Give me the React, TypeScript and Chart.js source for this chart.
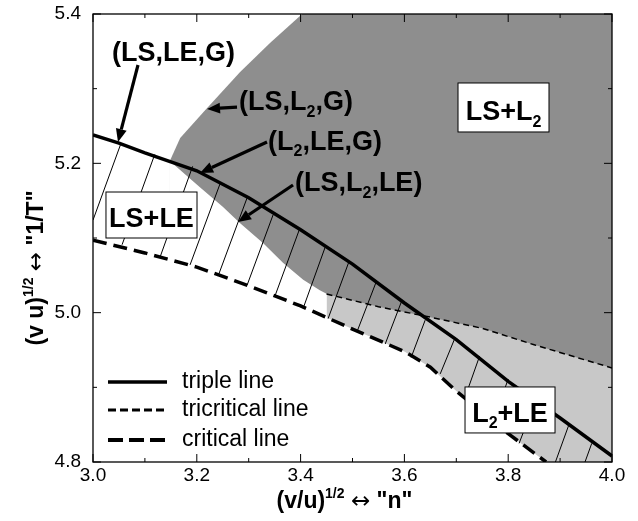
import React, { useEffect, useRef } from "react";
import { Chart, registerables } from "chart.js";
Chart.register(...registerables);

// ---- data ----
const tripleX = [3.0, 3.05, 3.1, 3.2, 3.3, 3.4, 3.5, 3.6, 3.7, 3.8, 3.9, 4.0];
const tripleY = [5.238, 5.227, 5.214, 5.19, 5.154, 5.111, 5.065, 5.013, 4.964, 4.908, 4.859, 4.808];

const criticalX = [3.0, 3.1, 3.2, 3.3, 3.4, 3.5, 3.6, 3.65, 3.7, 3.8, 3.873];
const criticalY = [5.097, 5.08, 5.061, 5.036, 5.009, 4.978, 4.948, 4.927, 4.895, 4.838, 4.8];

const tricriticalX = [3.45, 3.55, 3.65, 3.75, 3.85, 4.0];
const tricriticalY = [5.025, 5.008, 4.994, 4.979, 4.957, 4.926];

// (LS,L2,G) boundary, then the top edge of the LS+L2 region
const darkTopX = [3.148, 3.168, 3.216, 3.283, 3.341, 3.403, 4.0];
const darkTopY = [5.203, 5.234, 5.271, 5.322, 5.361, 5.4, 5.4];

// (LS,L2,LE) boundary
const darkBottomX = [3.148, 3.206, 3.25, 3.283, 3.328, 3.366, 3.405, 3.437, 3.462];
const darkBottomY = [5.203, 5.168, 5.142, 5.12, 5.093, 5.067, 5.044, 5.03, 5.021];

// tie lines (bottom end -> top end)
const tieX1 = [3.0, 3.056, 3.129, 3.187, 3.241, 3.297, 3.351, 3.405, 3.453, 3.509, 3.563, 3.613, 3.669, 3.717, 3.771, 3.821, 3.891, 3.948];
const tieY1 = [5.124, 5.091, 5.074, 5.064, 5.049, 5.037, 5.023, 5.006, 4.992, 4.975, 4.958, 4.94, 4.918, 4.887, 4.855, 4.825, 4.8, 4.8];
const tieX2 = [3.053, 3.119, 3.192, 3.245, 3.297, 3.347, 3.398, 3.448, 3.493, 3.545, 3.595, 3.64, 3.698, 3.745, 3.8, 3.852, 3.917, 3.961];
const tieY2 = [5.225, 5.212, 5.196, 5.173, 5.154, 5.131, 5.112, 5.089, 5.068, 5.04, 5.016, 4.99, 4.967, 4.942, 4.911, 4.881, 4.85, 4.825];

const xMajor = [3.0, 3.2, 3.4, 3.6, 3.8, 4.0];
const xTickLabels = ["3.0", "3.2", "3.4", "3.6", "3.8", "4.0"];
const xMinor = [3.1, 3.3, 3.5, 3.7, 3.9];
const yMajor = [4.8, 5.0, 5.2, 5.4];
const yTickLabels = ["4.8", "5.0", "5.2", "5.4"];
const yMinor = [4.9, 5.1, 5.3];

const legendLabels = ["triple line", "tricritical line", "critical line"];

const FONT = '"Liberation Sans", Arial, Helvetica, sans-serif';
const ARROW_FONT = '"DejaVu Sans", sans-serif';
const DARK = "#8e8e8e";
const LIGHT = "#c8c8c8";

type Part = { t: string; sub?: boolean; sup?: boolean; arrow?: boolean };

function partFont(p: Part, size: number, weight: string) {
  if (p.arrow) return `normal ${size}px ${ARROW_FONT}`;
  return `${weight} ${p.sub || p.sup ? Math.round(size * 0.6) : size}px ${FONT}`;
}

function drawRich(ctx: CanvasRenderingContext2D, parts: Part[], x: number, y: number, size: number, align: "left" | "center", weight = "bold") {
  const widths = parts.map((p) => {
    ctx.font = partFont(p, size, weight);
    return ctx.measureText(p.t).width;
  });
  const total = widths.reduce((s, w) => s + w, 0);
  let cx = align === "center" ? x - total / 2 : x;
  ctx.textAlign = "left";
  ctx.textBaseline = "alphabetic";
  parts.forEach((p, i) => {
    ctx.font = partFont(p, size, weight);
    const dy = p.sub ? size * 0.24 : p.sup ? -size * 0.42 : 0;
    ctx.fillText(p.t, cx, y + dy);
    cx += widths[i];
  });
}

function arrow(ctx: CanvasRenderingContext2D, x1: number, y1: number, x2: number, y2: number) {
  const ang = Math.atan2(y2 - y1, x2 - x1);
  const hl = 13, hw = 5.5;
  const bx = x2 - hl * Math.cos(ang), by = y2 - hl * Math.sin(ang);
  ctx.lineWidth = 3.2;
  ctx.beginPath();
  ctx.moveTo(x1, y1);
  ctx.lineTo(bx, by);
  ctx.stroke();
  ctx.beginPath();
  ctx.moveTo(x2, y2);
  ctx.lineTo(bx + hw * Math.sin(ang), by - hw * Math.cos(ang));
  ctx.lineTo(bx - hw * Math.sin(ang), by + hw * Math.cos(ang));
  ctx.closePath();
  ctx.fill();
}

const overlay = {
  id: "overlay",
  afterDatasetsDraw(chart: any) {
    const { ctx, chartArea: a } = chart;
    const xs = chart.scales.x, ys = chart.scales.y;
    const X = (v: number) => xs.getPixelForValue(v);
    const Y = (v: number) => ys.getPixelForValue(v);
    const seg = (x1: number, y1: number, x2: number, y2: number) => {
      ctx.beginPath(); ctx.moveTo(x1, y1); ctx.lineTo(x2, y2); ctx.stroke();
    };
    ctx.save();
    ctx.fillStyle = "#000";
    ctx.strokeStyle = "#000";
    ctx.setLineDash([]);
    // frame
    ctx.lineWidth = 1.3;
    ctx.strokeRect(a.left, a.top, a.right - a.left, a.bottom - a.top);
    // inward ticks
    ctx.lineWidth = 1;
    xMajor.forEach((v) => { const p = X(v); seg(p, a.bottom, p, a.bottom - 8); seg(p, a.top, p, a.top + 8); });
    xMinor.forEach((v) => { const p = X(v); seg(p, a.bottom, p, a.bottom - 4); seg(p, a.top, p, a.top + 4); });
    yMajor.forEach((v) => { const p = Y(v); seg(a.left, p, a.left + 8, p); seg(a.right, p, a.right - 8, p); });
    yMinor.forEach((v) => { const p = Y(v); seg(a.left, p, a.left + 4, p); seg(a.right, p, a.right - 4, p); });

    // region boxes
    const boxes: { x1: number; x2: number; y1: number; y2: number; base: number; parts: Part[] }[] = [
      { x1: 3.7033, x2: 3.8786, y1: 5.3076, y2: 5.242, base: 5.258, parts: [{ t: "LS+L" }, { t: "2", sub: true }] },
      { x1: 3.025, x2: 3.2004, y1: 5.1616, y2: 5.1, base: 5.1147, parts: [{ t: "LS+LE" }] },
      { x1: 3.7168, x2: 3.8902, y1: 4.9005, y2: 4.8389, base: 4.8536, parts: [{ t: "L" }, { t: "2", sub: true }, { t: "+LE" }] },
    ];
    boxes.forEach((b) => {
      const l = X(b.x1), r = X(b.x2), t = Y(b.y1), bt = Y(b.y2);
      ctx.fillStyle = "#fff";
      ctx.fillRect(l, t, r - l, bt - t);
      ctx.lineWidth = 1;
      ctx.strokeRect(l, t, r - l, bt - t);
      ctx.fillStyle = "#000";
      drawRich(ctx, b.parts, (l + r) / 2, Y(b.base), 27, "center");
    });

    // point labels with arrows
    const notes: { tx: number; ty: number; ax1: number; ay1: number; ax2: number; ay2: number; parts: Part[] }[] = [
      { tx: 3.0366, ty: 5.3371, ax1: 3.0867, ay1: 5.3317, ax2: 3.0482, ay2: 5.2286, parts: [{ t: "(LS,LE,G)" }] },
      { tx: 3.2813, ty: 5.2714, ax1: 3.2775, ay1: 5.2754, ax2: 3.2197, ay2: 5.2728, parts: [{ t: "(LS,L" }, { t: "2", sub: true }, { t: ",G)" }] },
      { tx: 3.3372, ty: 5.2179, ax1: 3.3353, ay1: 5.2286, ax2: 3.2062, ay2: 5.1871, parts: [{ t: "(L" }, { t: "2", sub: true }, { t: ",LE,G)" }] },
      { tx: 3.3892, ty: 5.1629, ax1: 3.3854, ay1: 5.171, ax2: 3.2794, ay2: 5.1214, parts: [{ t: "(LS,L" }, { t: "2", sub: true }, { t: ",LE)" }] },
    ];
    notes.forEach((n) => {
      ctx.fillStyle = "#000";
      arrow(ctx, X(n.ax1), Y(n.ay1), X(n.ax2), Y(n.ay2));
      drawRich(ctx, n.parts, X(n.tx), Y(n.ty), 27, "left");
    });

    // legend
    const rows = [4.9071, 4.8696, 4.8295];
    const styles = [
      { dash: [] as number[], w: 3.5 },
      { dash: [8, 4], w: 3 },
      { dash: [15, 6], w: 4 },
    ];
    rows.forEach((ry, i) => {
      const py = Y(ry);
      ctx.lineWidth = styles[i].w;
      ctx.setLineDash(styles[i].dash);
      seg(X(3.0289), py, X(3.1426), py);
      ctx.setLineDash([]);
      ctx.font = `23px ${FONT}`;
      ctx.textAlign = "left";
      ctx.textBaseline = "middle";
      ctx.fillText(legendLabels[i], X(3.1715), py);
    });
    ctx.restore();
  },
  afterDraw(chart: any) {
    const { ctx, chartArea: a } = chart;
    ctx.save();
    ctx.fillStyle = "#000";
    // x title
    drawRich(ctx, [{ t: "(v/u)" }, { t: "1/2", sup: true }, { t: " " }, { t: "\u2194", arrow: true }, { t: " \"n\"" }], (a.left + a.right) / 2 - 8, 508, 23, "center");
    // y title
    ctx.translate(43, (a.top + a.bottom) / 2 + 30);
    ctx.rotate(-Math.PI / 2);
    drawRich(ctx, [{ t: "(v u)" }, { t: "1/2", sup: true }, { t: " " }, { t: "\u2194", arrow: true }, { t: " \"1/T\"" }], 0, 0, 23, "center");
    ctx.restore();
  },
};

const pts = (xs: number[], ys: number[]) => xs.map((x, i) => ({ x, y: ys[i] }));

export default function App() {
  const ref = useRef<HTMLCanvasElement | null>(null);
  useEffect(() => {
    if (!ref.current) return;
    const base = { pointRadius: 0, pointHoverRadius: 0, tension: 0 };
    const ties = tieX1.map((x1, i) => ({
      ...base,
      label: `tie${i}`,
      data: [{ x: x1, y: tieY1[i] }, { x: tieX2[i], y: tieY2[i] }],
      borderColor: "#000",
      borderWidth: 1,
      fill: false,
      order: 10,
    }));
    const chart = new Chart(ref.current, {
      type: "line",
      data: {
        datasets: [
          { ...base, label: "LS+L2 region", data: pts(darkTopX, darkTopY), fill: "start", backgroundColor: DARK, borderColor: "rgba(0,0,0,0)", borderWidth: 0, order: 20 },
          { ...base, label: "LS,L2,LE boundary", data: pts(darkBottomX, darkBottomY), fill: "start", backgroundColor: "#fff", borderColor: "rgba(0,0,0,0)", borderWidth: 0, order: 19 },
          { ...base, label: "L2+LE region", data: pts(tricriticalX, tricriticalY), fill: "start", backgroundColor: LIGHT, borderColor: "rgba(0,0,0,0)", borderWidth: 0, order: 18 },
          { ...base, label: "below critical", data: pts(criticalX, criticalY), fill: "start", backgroundColor: "#fff", borderColor: "rgba(0,0,0,0)", borderWidth: 0, order: 17 },
          ...ties,
          { ...base, label: "tricritical line", data: pts(tricriticalX, tricriticalY), borderColor: "#000", borderWidth: 1.5, borderDash: [6, 4], fill: false, order: 3 },
          { ...base, label: "critical line", data: pts(criticalX, criticalY), borderColor: "#000", borderWidth: 3.5, borderDash: [14, 7], fill: false, order: 2 },
          { ...base, label: "triple line", data: pts(tripleX, tripleY), borderColor: "#000", borderWidth: 3.5, fill: false, order: 1 },
        ] as any,
      },
      options: {
        animation: false,
        responsive: false,
        devicePixelRatio: 1,
        events: [],
        layout: { padding: { left: 53, top: 14, right: 26, bottom: 33 } },
        plugins: { legend: { display: false }, tooltip: { enabled: false } },
        scales: {
          x: {
            type: "linear",
            min: 3.0,
            max: 4.0,
            grid: { display: false, drawTicks: false },
            border: { display: false },
            afterBuildTicks: (s: any) => { s.ticks = xMajor.map((v) => ({ value: v })); },
            afterFit: (s: any) => { s.height = 26; s.paddingLeft = 0; s.paddingRight = 0; s.paddingTop = 0; s.paddingBottom = 0; },
            ticks: { font: { size: 19, family: FONT }, color: "#000", padding: 2, maxRotation: 0, autoSkip: false, callback: (_v: any, i: number) => xTickLabels[i] },
          },
          y: {
            type: "linear",
            min: 4.8,
            max: 5.4,
            grid: { display: false, drawTicks: false },
            border: { display: false },
            afterBuildTicks: (s: any) => { s.ticks = yMajor.map((v) => ({ value: v })); },
            afterFit: (s: any) => { s.width = 40; s.paddingTop = 0; s.paddingBottom = 0; s.paddingLeft = 0; s.paddingRight = 0; },
            ticks: { font: { size: 19, family: FONT }, color: "#000", padding: 12, autoSkip: false, callback: (_v: any, i: number) => yTickLabels[i] },
          },
        },
      } as any,
      plugins: [overlay],
    });
    return () => chart.destroy();
  }, []);
  return (
    <div style={{ position: "absolute", left: 0, top: 0, width: 638, height: 521, background: "#fff" }}>
      <canvas ref={ref} width={638} height={521} style={{ display: "block", width: 638, height: 521 }} />
    </div>
  );
}
